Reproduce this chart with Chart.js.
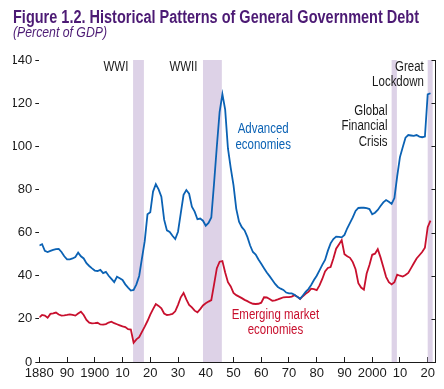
<!DOCTYPE html>
<html>
<head>
<meta charset="utf-8">
<script src="https://cdn.jsdelivr.net/npm/chart.js@4/dist/chart.umd.min.js"></script>
<style>
	html, body { margin: 0; padding: 0; background: #fff; }
</style>
</head>
<body>
<canvas id="debtChart" width="444" height="389"></canvas>
<script>
/*-------------------------------------------------------------------------*/
// Data (percent of GDP)
/*-------------------------------------------------------------------------*/
var years = [
	1880, 1881, 1882, 1883, 1884, 1885, 1886, 1887, 1888, 1889,
	1890, 1891, 1892, 1893, 1894, 1895, 1896, 1897, 1898, 1899,
	1900, 1901, 1902, 1903, 1904, 1905, 1906, 1907, 1908, 1909,
	1910, 1911, 1912, 1913, 1914, 1915, 1916, 1917, 1918, 1919,
	1920, 1921, 1922, 1923, 1924, 1925, 1926, 1927, 1928, 1929,
	1930, 1931, 1932, 1933, 1934, 1935, 1936, 1937, 1938, 1939,
	1940, 1941, 1942, 1943, 1944, 1945, 1946, 1947, 1948, 1949,
	1950, 1951, 1952, 1953, 1954, 1955, 1956, 1957, 1958, 1959,
	1960, 1961, 1962, 1963, 1964, 1965, 1966, 1967, 1968, 1969,
	1970, 1971, 1972, 1973, 1974, 1975, 1976, 1977, 1978, 1979,
	1980, 1981, 1982, 1983, 1984, 1985, 1986, 1987, 1988, 1989,
	1990, 1991, 1992, 1993, 1994, 1995, 1996, 1997, 1998, 1999,
	2000, 2001, 2002, 2003, 2004, 2005, 2006, 2007, 2008, 2009,
	2010, 2011, 2012, 2013, 2014, 2015, 2016, 2017, 2018, 2019,
	2020, 2021
];

var advanced = [
	54, 54.6, 51.5, 51, 51.5, 52, 52.3, 52.4, 51, 49,
	47.6, 47.6, 48, 48.7, 50.7, 49, 48, 45.8, 44.5, 43.4,
	42.4, 42.2, 42.7, 41.2, 41.8, 40, 38.5, 37, 39.5, 38.8,
	38, 36, 34.5, 33.1, 33.4, 36, 39.9, 48, 56, 68.5,
	69.4, 79, 82.4, 80, 76.6, 66, 61, 60.3, 58.5, 57,
	60.4, 69, 77.5, 79.7, 78, 72, 69.7, 66.2, 66.5, 65.5,
	63.2, 64.5, 67, 83, 100, 116, 124.2, 117, 99, 90,
	82, 71, 65, 62.5, 61, 58, 54, 51, 49.8, 47.5,
	45.5, 43.5, 41.5, 39.8, 38, 36.2, 34.8, 34, 33.4, 32.2,
	31.8, 31.8, 31.2, 30.2, 29.3, 30.8, 32.5, 33.8, 35.7, 38,
	40, 42.5, 45, 47.3, 51.5, 55, 57, 58.1, 58, 57.8,
	58.9, 62, 64.5, 67, 70, 71.4, 71.5, 71.5, 71.3, 70.9,
	68.5, 69.2, 70.5, 72.3, 74, 75.1, 74.3, 73.3, 76, 86,
	95, 99.5, 104, 105.2, 105, 104.8, 105.2, 104.5, 104.2, 104.5,
	124.1, 124.6
];

var emerging = [
	20.7, 21.8, 21.5, 20.5, 22.3, 22.5, 22.9, 22, 21.5, 21.6,
	21.8, 22.1, 21.8, 21.5, 22.5, 23.3, 21.8, 19.5, 18.2, 17.9,
	18, 18.2, 17.4, 17.3, 17.6, 18.3, 18.7, 18, 17.5, 17,
	16.5, 16.2, 15.2, 15, 8.9, 10.5, 11.5, 14, 16.4, 19,
	22, 24.5, 26.9, 26, 24.9, 22.5, 21.8, 22, 22.3, 23.5,
	26.5, 30, 32, 29, 26.5, 25.3, 23.8, 23, 24.5, 26.2,
	27.2, 28, 28.7, 36, 43.5, 46.5, 46.8, 41.5, 37, 35,
	32, 31, 30.3, 29.6, 28.8, 28.2, 27.5, 27, 26.9, 27,
	27.5, 30, 29.9, 29.2, 28.4, 28.6, 29, 29.5, 30, 30.1,
	30.1, 30.3, 31, 30.3, 29.2, 30.5, 31.6, 32.5, 34, 33.8,
	33.3, 35.5, 38.5, 42, 43.6, 44, 48, 52.5, 54.5, 56.5,
	50, 49, 48.3, 46.3, 43, 36.5, 34.5, 33.5, 41, 45,
	49.7, 50.2, 52.3, 48.5, 44, 39.5, 37, 36, 37, 40.5,
	40, 39.6, 40.3, 41.3, 43.5, 45.8, 48, 49.5, 51, 53,
	62.5, 65.5
];

// shaded episodes (start / end year)
var bandStart = [1913.8, 1939, 2007, 2020];
var bandEnd = [1917.7, 1945.8, 2008.9, 2021.8];

// x axis tick years
var xTicks = [1880, 1890, 1900, 1910, 1920, 1930, 1940, 1950, 1960, 1970, 1980, 1990, 2000, 2010, 2020];

var TITLE = 'Figure 1.2. Historical Patterns of General Government Debt';
var SUBTITLE = '(Percent of GDP)';

/*-------------------------------------------------------------------------*/
// Styles
/*-------------------------------------------------------------------------*/
var FONT = '"Liberation Sans", Arial, sans-serif';
var SQUEEZE = 0.82;   // condensed look, no narrow face installed
var BLUE = '#0b62b4';
var RED = '#c8102e';
var PURPLE = '#4c1a74';
var BAND = '#ddd2e7';
var INK = '#1a1a1a';

// text notes placed in data units (first line), extra lines go below
var notes = [
	{ lines: ['WWI'], year: 1912.1, value: 136.9, align: 'right', color: INK },
	{ lines: ['WWII'], year: 1937.0, value: 136.9, align: 'right', color: INK },
	{ lines: ['Advanced', 'economies'], year: 1960.7, value: 107.9, align: 'center', color: BLUE },
	{ lines: ['Global', 'Financial', 'Crisis'], year: 2005.5, value: 116.4, align: 'right', color: INK },
	{ lines: ['Great', 'Lockdown'], year: 2018.6, value: 136.9, align: 'right', color: INK },
	{ lines: ['Emerging market', 'economies'], year: 1965.1, value: 21.8, align: 'center', color: RED }
];

function toPoints(values) {
	return years.map(function (yr, i) { return { x: yr, y: values[i] }; });
}

function squeezedText(ctx, text, x, y, factor) {
	var w = ctx.measureText(text).width;
	ctx.fillText(text, x, y, w * factor);
}

/*-------------------------------------------------------------------------*/
// Plugins
/*-------------------------------------------------------------------------*/
var bandsPlugin = {
	id: 'bands',
	beforeDatasetsDraw: function (chart) {
		var ctx = chart.ctx, xs = chart.scales.x, area = chart.chartArea;
		ctx.save();
		ctx.fillStyle = BAND;
		for (var i = 0; i < bandStart.length; i++) {
			var x0 = xs.getPixelForValue(bandStart[i]);
			var x1 = xs.getPixelForValue(bandEnd[i]);
			ctx.fillRect(x0, area.top, x1 - x0, area.bottom - area.top);
		}
		ctx.restore();
	}
};

var rightAxisPlugin = {
	id: 'rightAxis',
	afterDatasetsDraw: function (chart) {
		var ctx = chart.ctx, ys = chart.scales.y, area = chart.chartArea;
		var x = Math.round(area.right) + 0.5;
		ctx.save();
		ctx.strokeStyle = INK;
		ctx.lineWidth = 1;
		ctx.beginPath();
		ctx.moveTo(x, area.top);
		ctx.lineTo(x, area.bottom);
		ys.ticks.forEach(function (t) {
			var y = Math.round(ys.getPixelForValue(t.value)) + 0.5;
			ctx.moveTo(x - 4, y);
			ctx.lineTo(x, y);
		});
		ctx.stroke();
		ctx.restore();
	}
};

var notesPlugin = {
	id: 'notes',
	afterDatasetsDraw: function (chart) {
		var ctx = chart.ctx, xs = chart.scales.x, ys = chart.scales.y;
		ctx.save();
		ctx.font = '14px ' + FONT;
		ctx.textBaseline = 'middle';
		notes.forEach(function (n) {
			var x = xs.getPixelForValue(n.year);
			var y = ys.getPixelForValue(n.value);
			ctx.fillStyle = n.color;
			ctx.textAlign = n.align;
			n.lines.forEach(function (line, i) {
				squeezedText(ctx, line, x, y + i * 15.5, SQUEEZE);
			});
		});
		ctx.restore();
	}
};

var headerPlugin = {
	id: 'header',
	afterDraw: function (chart) {
		var ctx = chart.ctx;
		ctx.save();
		ctx.fillStyle = PURPLE;
		ctx.textAlign = 'left';
		ctx.textBaseline = 'alphabetic';
		ctx.font = 'bold 17.5px ' + FONT;
		ctx.fillText(TITLE, 13, 22.7, 406);
		ctx.font = 'italic 14px ' + FONT;
		ctx.fillText(SUBTITLE, 13, 37.4, 94);
		ctx.restore();
	}
};

/*-------------------------------------------------------------------------*/
// Chart
/*-------------------------------------------------------------------------*/
new Chart(document.getElementById('debtChart'), {
	type: 'line',
	data: {
		datasets: [{
			label: 'Advanced economies',
			data: toPoints(advanced),
			borderColor: BLUE,
			borderWidth: 1.8,
			pointRadius: 0,
			fill: false
		}, {
			label: 'Emerging market economies',
			data: toPoints(emerging),
			borderColor: RED,
			borderWidth: 1.8,
			pointRadius: 0,
			fill: false
		}]
	},
	options: {
		responsive: false,
		animation: false,
		devicePixelRatio: 1,
		layout: { padding: { left: 13, right: 4, top: 60, bottom: 0 } },
		plugins: {
			legend: { display: false },
			tooltip: { enabled: false },
			title: { display: false }
		},
		scales: {
			x: {
				type: 'linear',
				min: 1880,
				max: 2022.7,
				afterBuildTicks: function (scale) {
					scale.ticks = xTicks.map(function (v) { return { value: v }; });
				},
				afterFit: function (scale) { scale.height = 27; },
				border: { display: true, color: INK, width: 1 },
				grid: { drawOnChartArea: false, tickLength: -5, color: INK },
				ticks: {
					autoSkip: false,
					maxRotation: 0,
					padding: 9,
					color: INK,
					font: { family: FONT, size: 13 },
					callback: function (v) {
						if (v === 1880 || v % 100 === 0) return String(v);
						return String(v).slice(2);
					}
				}
			},
			y: {
				min: 0,
				max: 140,
				afterFit: function (scale) { scale.width = 26.3; },
				border: { display: false },
				grid: { drawOnChartArea: false, tickLength: 4, color: INK },
				ticks: {
					stepSize: 20,
					padding: 3,
					color: INK,
					font: { family: FONT, size: 13 }
				}
			}
		}
	},
	plugins: [bandsPlugin, rightAxisPlugin, notesPlugin, headerPlugin]
});
</script>
</body>
</html>
